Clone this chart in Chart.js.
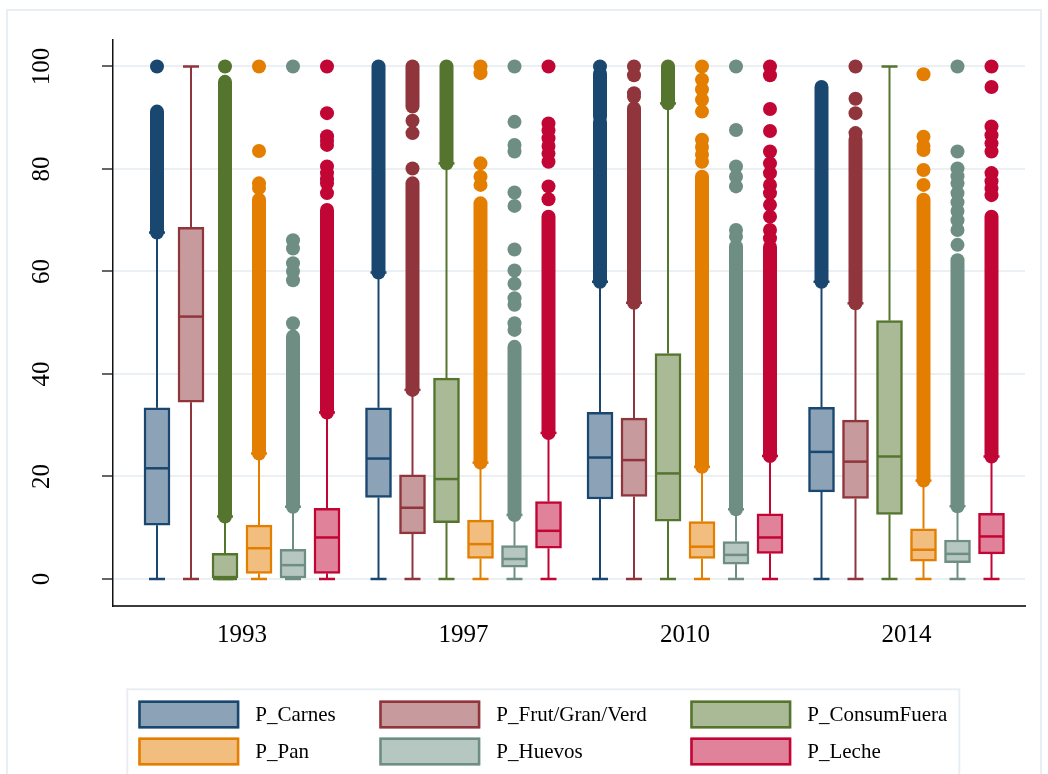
<!DOCTYPE html>
<html><head><meta charset="utf-8">
<script src="https://cdn.jsdelivr.net/npm/chart.js@4.4.1/dist/chart.umd.min.js"></script>
<style>html,body{margin:0;padding:0;background:#fff}#wrap{width:1048px;height:774px;position:relative}</style>
</head><body><div id="wrap"><canvas id="c" width="1048" height="774"></canvas></div>
<script>
// ---------------- data ----------------
const years = ['1993', '1997', '2010', '2014'];
const seriesNames = ['P_Carnes', 'P_Frut/Gran/Verd', 'P_ConsumFuera', 'P_Pan', 'P_Huevos', 'P_Leche'];
const yTickValues = [0, 20, 40, 60, 80, 100];

// [series][year]
const whiskerLow = [
  [0, 0, 0, 0], [0, 0, 0, 0], [0, 0, 0, 0], [0, 0, 0, 0], [0, 0, 0, 0], [0, 0, 0, 0]
];
const q1 = [
  [10.5, 15.9, 15.6, 17.0],
  [34.5, 8.8, 16.1, 15.7],
  [0, 11.0, 11.3, 12.6],
  [1.1, 4.0, 4.0, 3.5],
  [0, 2.3, 2.9, 3.2],
  [1.1, 6.0, 5.0, 4.9]
];
const median = [
  [21.6, 23.5, 23.7, 24.8],
  [51.2, 13.9, 23.2, 22.9],
  [0, 19.5, 20.6, 23.9],
  [6.0, 6.8, 6.3, 5.7],
  [2.7, 3.9, 4.7, 4.9],
  [8.1, 9.4, 8.1, 8.3]
];
const q3 = [
  [33.4, 33.4, 32.5, 33.5],
  [68.6, 20.3, 31.4, 31.0],
  [5.0, 39.2, 44.0, 50.4],
  [10.5, 11.5, 11.2, 9.8],
  [5.8, 6.5, 7.3, 7.6],
  [13.8, 15.1, 12.7, 12.8]
];
const whiskerHigh = [
  [67.6, 59.8, 58.0, 58.0],
  [100, 36.9, 53.9, 53.8],
  [12.2, 81.1, 92.8, 100],
  [24.5, 22.7, 21.9, 19.2],
  [14.1, 12.5, 13.6, 14.2],
  [32.5, 28.5, 24.0, 23.9]
];
// dense runs of outside values, [from, to]
const outlierRuns = [
  [[[67.6, 91.2]], [[59.8, 100]], [[58.0, 89.2], [90.2, 98.6]], [[58.0, 96.0]]],
  [[], [[92.2, 100], [36.9, 77.2]], [[53.9, 91.8]], [[53.8, 85.7]]],
  [[[12.2, 97.0]], [[81.1, 100]], [[92.8, 100]], []],
  [[[24.5, 74.0]], [[22.7, 73.3]], [[21.9, 78.5]], [[19.2, 74.0]]],
  [[[14.1, 47.3]], [[12.5, 45.3]], [[13.6, 64.9]], [[14.2, 62.2]]],
  [[[32.5, 72.0]], [[28.5, 70.7]], [[24.0, 64.8]], [[23.9, 70.7]]]
];
// individual outside values
const outlierDots = [
  [[100], [], [100], []],
  [[], [89.4, 87.0, 80.1], [100, 98.3, 94.8, 94.1], [100, 93.7, 90.9, 87.0]],
  [[100], [], [], []],
  [[100, 83.5, 77.2, 76.3], [100, 98.7, 81.1, 78.5, 76.9],
   [100, 97.4, 95.5, 93.5, 91.2, 85.7, 84.3, 82.8, 81.4], [98.5, 86.3, 84.5, 83.7, 79.8, 76.9]],
  [[100, 66.1, 64.5, 61.6, 60.0, 58.3, 49.9],
   [100, 89.2, 84.7, 83.4, 75.4, 72.8, 64.3, 60.2, 57.6, 54.8, 53.5, 49.9, 48.6],
   [100, 87.6, 80.5, 78.5, 76.6, 68.1, 66.8],
   [100, 83.4, 80.1, 78.6, 77.2, 75.3, 73.5, 71.8, 70.0, 68.1, 65.2]],
  [[100, 90.9, 86.4, 85.5, 84.7, 80.5, 79.2, 78.0, 77.2, 75.3],
   [100, 88.9, 87.5, 86.0, 84.5, 83.0, 81.4, 76.6, 74.1],
   [100, 98.3, 91.7, 87.4, 83.4, 81.1, 79.2, 76.9, 75.3, 73.0, 70.7, 68.1, 66.5],
   [100, 96.0, 88.3, 86.6, 85.0, 83.4, 79.2, 77.6, 76.2, 74.9]]
];

// ---------------- style ----------------
const lineColors = ['#1a476f', '#90353b', '#55752f', '#e37e00', '#6e8e84', '#c10534'];
const fillColors = ['#8ca3b7', '#c79a9d', '#aaba97', '#f1be7f', '#b6c6c1', '#e08299'];
const seriesStep = 34 / 221.5;     // spacing of boxes inside a group, in group units
const SERIF = '"Liberation Serif", "Times New Roman", serif';

function pos(g, s) { return g + (s - (seriesNames.length - 1) / 2) * seriesStep; }

const datasets = [];
seriesNames.forEach((name, s) => {
  datasets.push({
    type: 'bar', label: name,
    data: years.map((_, g) => ({ x: pos(g, s), y: [q1[s][g], q3[s][g]] })),
    backgroundColor: fillColors[s], borderColor: lineColors[s],
    borderWidth: 2.5, borderSkipped: false, barThickness: 26, grouped: false, order: 2
  });
});
seriesNames.forEach((name, s) => {
  const pts = [];
  years.forEach((_, g) => outlierDots[s][g].forEach(v => pts.push({ x: pos(g, s), y: v })));
  datasets.push({
    type: 'scatter', label: name + ' outliers', data: pts,
    backgroundColor: lineColors[s], borderWidth: 0, pointRadius: 7, order: 1
  });
});

const boxParts = {
  id: 'boxParts',
  beforeDraw(chart) {
    const ctx = chart.ctx;
    ctx.save();
    ctx.fillStyle = '#fff';
    ctx.fillRect(0, 0, chart.width, chart.height);
    ctx.strokeStyle = '#e8eef1';
    ctx.lineWidth = 2;
    ctx.strokeRect(7, 10, 1034, 780);
    ctx.restore();
  },
  beforeDatasetsDraw(chart) {
    const { ctx, scales: { x, y } } = chart;
    ctx.save();
    const seg = (x1, y1, x2, y2) => { ctx.beginPath(); ctx.moveTo(x1, y1); ctx.lineTo(x2, y2); ctx.stroke(); };
    seriesNames.forEach((_, s) => {
      years.forEach((_, g) => {
        const px = x.getPixelForValue(pos(g, s));
        ctx.strokeStyle = lineColors[s];
        ctx.lineCap = 'butt';
        ctx.lineWidth = 2;
        seg(px, y.getPixelForValue(q3[s][g]), px, y.getPixelForValue(whiskerHigh[s][g]));
        seg(px, y.getPixelForValue(q1[s][g]), px, y.getPixelForValue(whiskerLow[s][g]));
        ctx.lineWidth = 2.5;
        seg(px - 8, y.getPixelForValue(whiskerHigh[s][g]), px + 8, y.getPixelForValue(whiskerHigh[s][g]));
        seg(px - 8, y.getPixelForValue(whiskerLow[s][g]), px + 8, y.getPixelForValue(whiskerLow[s][g]));
        ctx.lineWidth = 14;
        ctx.lineCap = 'round';
        outlierRuns[s][g].forEach(r => seg(px, y.getPixelForValue(r[0]), px, y.getPixelForValue(r[1])));
      });
    });
    ctx.restore();
  },
  afterDatasetsDraw(chart) {
    const { ctx, scales: { x, y } } = chart;
    ctx.save();
    seriesNames.forEach((_, s) => {
      years.forEach((_, g) => {
        const px = x.getPixelForValue(pos(g, s));
        const py = y.getPixelForValue(median[s][g]);
        ctx.strokeStyle = lineColors[s];
        ctx.lineWidth = 2.5;
        ctx.beginPath(); ctx.moveTo(px - 12, py); ctx.lineTo(px + 12, py); ctx.stroke();
      });
    });
    ctx.restore();
  },
  afterDraw(chart) {
    const { ctx, scales: { x, y } } = chart;
    ctx.save();
    ctx.fillStyle = '#000';
    ctx.font = '25px ' + SERIF;
    // y tick labels (rotated)
    yTickValues.forEach(v => {
      ctx.save();
      ctx.translate(48.5, y.getPixelForValue(v));
      ctx.rotate(-Math.PI / 2);
      ctx.textAlign = 'center';
      ctx.textBaseline = 'alphabetic';
      ctx.fillText(String(v), 0, 0);
      ctx.restore();
    });
    // x category labels
    ctx.textAlign = 'center';
    ctx.textBaseline = 'alphabetic';
    years.forEach((lab, g) => ctx.fillText(lab, x.getPixelForValue(g), 641.5));

    // legend
    ctx.font = '21px ' + SERIF;
    const cols = 3, boxW = 101, boxH = 28, textGap = 16, colGap = 43.5;
    const rowsY = [714.5, 751.5];
    let cx = 138.3;
    const colX = [];
    for (let c = 0; c < cols; c++) {
      colX.push(cx);
      let maxW = 0;
      for (let r = 0; r < rowsY.length; r++) {
        const i = r * cols + c;
        if (i < seriesNames.length) maxW = Math.max(maxW, ctx.measureText(seriesNames[i]).width);
      }
      cx += boxW + textGap + maxW + colGap;
    }
    const legendRight = cx - colGap + 12;
    ctx.strokeStyle = '#e8eef1';
    ctx.lineWidth = 2;
    ctx.strokeRect(127.3, 689.3, legendRight - 127.3, 100);
    seriesNames.forEach((name, i) => {
      const c = i % cols, r = Math.floor(i / cols);
      const bx = colX[c], by = rowsY[r] - boxH / 2;
      ctx.fillStyle = fillColors[i];
      ctx.fillRect(bx, by, boxW, boxH);
      ctx.strokeStyle = lineColors[i];
      ctx.lineWidth = 2.5;
      ctx.strokeRect(bx + 1.25, by + 1.25, boxW - 2.5, boxH - 2.5);
      ctx.fillStyle = '#000';
      ctx.textAlign = 'left';
      ctx.textBaseline = 'middle';
      ctx.fillText(name, bx + boxW + textGap, rowsY[r] + 1);
    });
    ctx.restore();
  }
};

new Chart(document.getElementById('c'), {
  type: 'bar',
  data: { datasets },
  options: {
    responsive: false, animation: false, events: [], devicePixelRatio: 1,
    layout: { padding: { left: 0, right: 23, top: 40, bottom: 168 } },
    plugins: { legend: { display: false }, tooltip: { enabled: false } },
    scales: {
      x: {
        type: 'linear', min: -0.5824, max: 3.535, offset: false,
        grid: { display: false, drawTicks: false },
        border: { display: true, color: '#3c3c3c', width: 2 },
        ticks: { display: false },
        afterFit(scale) { scale.height = 0; }
      },
      y: {
        type: 'linear', min: -5.27, max: 105.17,
        afterBuildTicks(scale) { scale.ticks = yTickValues.map(v => ({ value: v })); },
        grid: { color: '#eaf0f3', lineWidth: 2, drawTicks: true, tickLength: 11, tickColor: '#333', tickWidth: 1.5 },
        border: { display: true, color: '#111', width: 1.5 },
        ticks: { display: false },
        afterFit(scale) { scale.width = 113; }
      }
    }
  },
  plugins: [boxParts]
});
</script>
</body></html>
